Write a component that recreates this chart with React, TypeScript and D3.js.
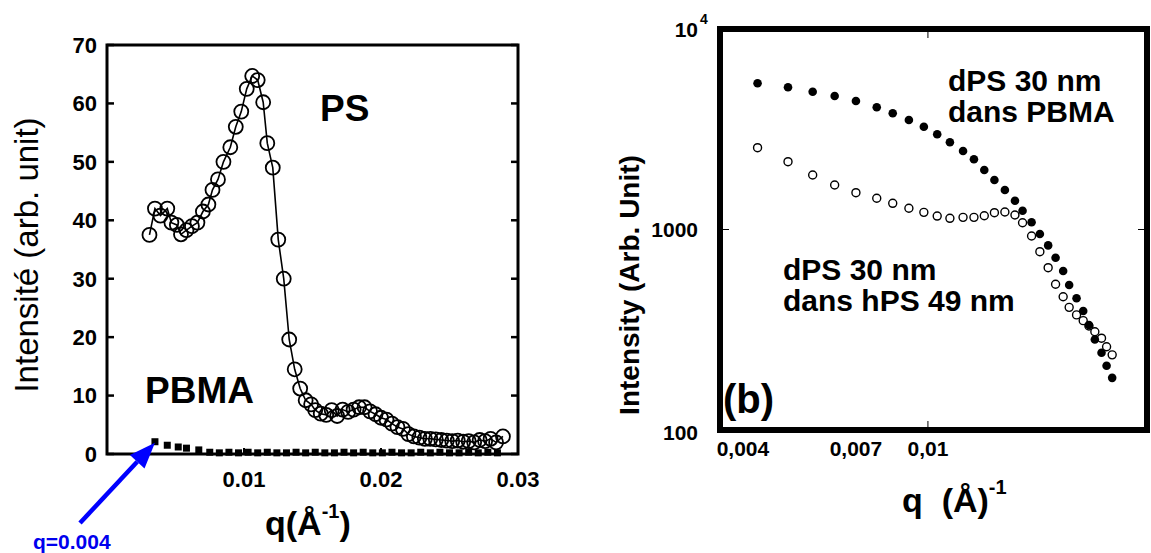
import React from "react";
import * as d3 from "d3";

// ---------- Left panel data ----------
const psQ = [0.0031, 0.0035, 0.0039, 0.0044, 0.0047, 0.0051, 0.0054, 0.0058, 0.0062, 0.0066, 0.0070, 0.0074, 0.0077, 0.0081, 0.0085, 0.0090, 0.0094, 0.0098, 0.0102, 0.0106, 0.0110, 0.0114, 0.0117, 0.0121, 0.0125, 0.0129, 0.0133, 0.0137, 0.0141, 0.0145, 0.0149, 0.0152, 0.0156, 0.0160, 0.0164, 0.0168, 0.0172, 0.0176, 0.0180, 0.0184, 0.0188, 0.0192, 0.0196, 0.0200, 0.0204, 0.0208, 0.0212, 0.0216, 0.0220, 0.0224, 0.0228, 0.0232, 0.0236, 0.0240, 0.0244, 0.0248, 0.0252, 0.0256, 0.0260, 0.0264, 0.0268, 0.0272, 0.0276, 0.0280, 0.0284, 0.0289];
const psI = [37.5, 42.0, 40.8, 42.0, 39.6, 39.2, 37.6, 38.3, 39.0, 39.6, 41.5, 42.7, 45.2, 47.0, 50.0, 52.5, 56.0, 58.6, 62.5, 64.7, 64.0, 60.2, 53.2, 49.0, 36.7, 30.0, 19.6, 14.5, 11.2, 9.2, 8.5, 7.5, 6.9, 6.7, 7.5, 6.5, 7.6, 7.2, 7.6, 8.0, 8.0, 7.3, 6.8, 6.2, 5.9, 5.2, 4.6, 4.3, 3.4, 3.0, 2.8, 2.6, 2.6, 2.5, 2.4, 2.3, 2.2, 2.3, 2.1, 2.2, 2.0, 2.4, 2.2, 2.6, 2.0, 3.0];

const pbmaQ = [0.0035, 0.0044, 0.0052, 0.0058, 0.0067, 0.0075, 0.0082, 0.0089, 0.0096, 0.0103, 0.0110, 0.0117, 0.0124, 0.0131, 0.0138, 0.0145, 0.0152, 0.0159, 0.0166, 0.0173, 0.0180, 0.0187, 0.0194, 0.0201, 0.0208, 0.0215, 0.0222, 0.0229, 0.0236, 0.0243, 0.0250, 0.0257, 0.0264, 0.0271, 0.0278, 0.0285];
const pbmaI = [2.1, 1.5, 1.2, 1.0, 0.7, 0.3, 0.2, 0.3, 0.2, 0.3, 0.2, 0.3, 0.2, 0.2, 0.3, 0.2, 0.3, 0.2, 0.2, 0.3, 0.2, 0.3, 0.2, 0.2, 0.3, 0.2, 0.2, 0.3, 0.2, 0.3, 0.2, 0.2, 0.3, 0.2, 0.3, 0.2];

const leftYTicks = [0, 10, 20, 30, 40, 50, 60, 70];
const leftXTicks = [0.01, 0.02, 0.03];
const leftXTickLabels = ["0.01", "0.02", "0.03"];

// ---------- Right panel data ----------
const rQ = [0.0043, 0.0050, 0.00565, 0.0063, 0.0070, 0.00776, 0.0084, 0.0091, 0.0098, 0.01047, 0.01115, 0.0119, 0.01256, 0.01322, 0.0139, 0.01464, 0.01539, 0.01598, 0.01671, 0.01741, 0.01814, 0.01882, 0.01954, 0.02013, 0.02088, 0.02158, 0.0222, 0.02286, 0.02363, 0.02423, 0.02491];
const pbmaMatrix = [5360, 5120, 4866, 4632, 4374, 4070, 3799, 3516, 3256, 2984, 2722, 2463, 2239, 1980, 1765, 1574, 1392, 1241, 1086, 950, 833, 723, 621, 529, 454, 392, 334, 283, 243, 209, 182];
const hpsMatrix = [2559, 2179, 1870, 1667, 1526, 1431, 1351, 1276, 1218, 1167, 1137, 1150, 1150, 1171, 1213, 1223, 1181, 1081, 928, 775, 645, 533, 462, 409, 375, 351, 330, 309, 287, 260, 237];

const rightXTicks = [0.004, 0.007, 0.01];
const rightXTickLabels = ["0,004", "0,007", "0,01"];

const FONT = "'Liberation Sans', Arial, Helvetica, sans-serif";

export default function App() {
  const xL = d3.scaleLinear().domain([0, 0.03]).range([107, 518]);
  const yL = d3.scaleLinear().domain([0, 70]).range([454, 45]);

  const xR = d3.scaleLog().domain([0.00357, 0.0296]).range([720, 1147]);
  const yR = d3.scaleLog().domain([100, 10000]).range([430, 29]);

  const psLine = d3
    .line<number>()
    .x((_, i) => xL(psQ[i]))
    .y((d) => yL(d))(psI) as string;

  // arrow geometry (annotation)
  const tail = [80, 523];
  const tip = [xL(0.0035), yL(2.1) + 1];
  const ang = Math.atan2(tip[1] - tail[1], tip[0] - tail[0]);
  const hl = 26, hw = 10;
  const bx = tip[0] - hl * Math.cos(ang), by = tip[1] - hl * Math.sin(ang);
  const head = [
    [tip[0], tip[1]],
    [bx + hw * Math.sin(ang), by - hw * Math.cos(ang)],
    [bx - hw * Math.sin(ang), by + hw * Math.cos(ang)],
  ];

  return (
    <div style={{ position: "absolute", left: 0, top: 0 }}>
      <svg width={1151} height={553} style={{ display: "block", background: "#fff" }} fontFamily={FONT}>
        {/* ===== Left panel ===== */}
        <rect x={107} y={45} width={411} height={409} fill="none" stroke="#000" strokeWidth={3} />
        {leftYTicks.map((t) => (
          <g key={"ly" + t}>
            <line x1={107} x2={114} y1={yL(t)} y2={yL(t)} stroke="#000" strokeWidth={2.5} />
            <line x1={511} x2={518} y1={yL(t)} y2={yL(t)} stroke="#000" strokeWidth={2.5} />
            <text x={97} y={yL(t)} dy="0.36em" textAnchor="end" fontSize={22} fontWeight="bold">
              {t}
            </text>
          </g>
        ))}
        {leftXTicks.map((t, i) => (
          <g key={"lx" + t}>
            <line x1={xL(t)} x2={xL(t)} y1={454} y2={448} stroke="#000" strokeWidth={2} />
            <text x={xL(t)} y={487} textAnchor="middle" fontSize={22} fontWeight="bold">
              {leftXTickLabels[i]}
            </text>
          </g>
        ))}
        <path d={psLine} fill="none" stroke="#000" strokeWidth={1.6} />
        {psI.map((v, i) => (
          <circle key={"ps" + i} cx={xL(psQ[i])} cy={yL(v)} r={7} fill="none" stroke="#000" strokeWidth={1.8} />
        ))}
        {pbmaI.map((v, i) => (
          <rect key={"pb" + i} x={xL(pbmaQ[i]) - 3.5} y={yL(v) - 3.5} width={7} height={7} fill="#000" />
        ))}
        <text x={320} y={121} fontSize={37} fontWeight="bold">PS</text>
        <text x={145} y={403} fontSize={37} fontWeight="bold">PBMA</text>
        <text transform="translate(26,255) rotate(-90)" textAnchor="middle" dy="0.36em" fontSize={33}>
          Intensité (arb. unit)
        </text>
        <text x={265} y={535} fontSize={34} fontWeight="bold">
          q(Å<tspan fontSize={20} dy={-17}>-1</tspan><tspan dy={17}>)</tspan>
        </text>
        {/* arrow */}
        <line x1={tail[0]} y1={tail[1]} x2={bx} y2={by} stroke="#0000ff" strokeWidth={4.5} />
        <polygon points={head.map((p) => p.join(",")).join(" ")} fill="#0000ff" />
        <text x={33} y={549} fontSize={21} fontWeight="bold" fill="#0000ee">q=0.004</text>

        {/* ===== Right panel ===== */}
        <line x1={xR(0.01)} x2={xR(0.01)} y1={430} y2={421} stroke="#000" strokeWidth={1} />
        <line x1={xR(0.01)} x2={xR(0.01)} y1={29} y2={38} stroke="#000" strokeWidth={1} />
        <line x1={720} x2={729} y1={yR(1000)} y2={yR(1000)} stroke="#000" strokeWidth={1} />
        <line x1={1138} x2={1147} y1={yR(1000)} y2={yR(1000)} stroke="#000" strokeWidth={1} />
        <rect x={720} y={29} width={427} height={401} fill="none" stroke="#000" strokeWidth={6} />
        <text x={698} y={37} textAnchor="end" fontSize={21} fontWeight="bold">10</text>
        <text x={700} y={24} fontSize={14} fontWeight="bold">4</text>
        <text x={698} y={yR(1000)} dy="0.36em" textAnchor="end" fontSize={21} fontWeight="bold">1000</text>
        <text x={698} y={yR(100) + 2} dy="0.36em" textAnchor="end" fontSize={21} fontWeight="bold">100</text>
        {rightXTicks.map((t, i) => (
          <text key={"rx" + t} x={xR(t)} y={456} textAnchor="middle" fontSize={21} fontWeight="bold">
            {rightXTickLabels[i]}
          </text>
        ))}
        {hpsMatrix.map((v, i) => (
          <circle key={"h" + i} cx={xR(rQ[i])} cy={yR(v)} r={4} fill="#fff" stroke="#000" strokeWidth={1.4} />
        ))}
        {pbmaMatrix.map((v, i) => (
          <circle key={"p" + i} cx={xR(rQ[i])} cy={yR(v)} r={4.3} fill="#000" />
        ))}
        <text x={948} y={91} fontSize={30} fontWeight="bold">dPS 30 nm</text>
        <text x={948} y={122} fontSize={30} fontWeight="bold">dans PBMA</text>
        <text x={783} y={280} fontSize={30} fontWeight="bold">dPS 30 nm</text>
        <text x={783} y={311} fontSize={30} fontWeight="bold">dans hPS 49 nm</text>
        <text x={723} y={413} fontSize={40} fontWeight="bold">(b)</text>
        <text transform="translate(629,285) rotate(-90)" textAnchor="middle" dy="0.36em" fontSize={28} fontWeight="bold">
          Intensity (Arb. Unit)
        </text>
        <text x={902} y={512} fontSize={34} fontWeight="bold">
          {"q\u00a0\u00a0(Å)"}<tspan fontSize={20} dy={-18}>-1</tspan>
        </text>
      </svg>
    </div>
  );
}
